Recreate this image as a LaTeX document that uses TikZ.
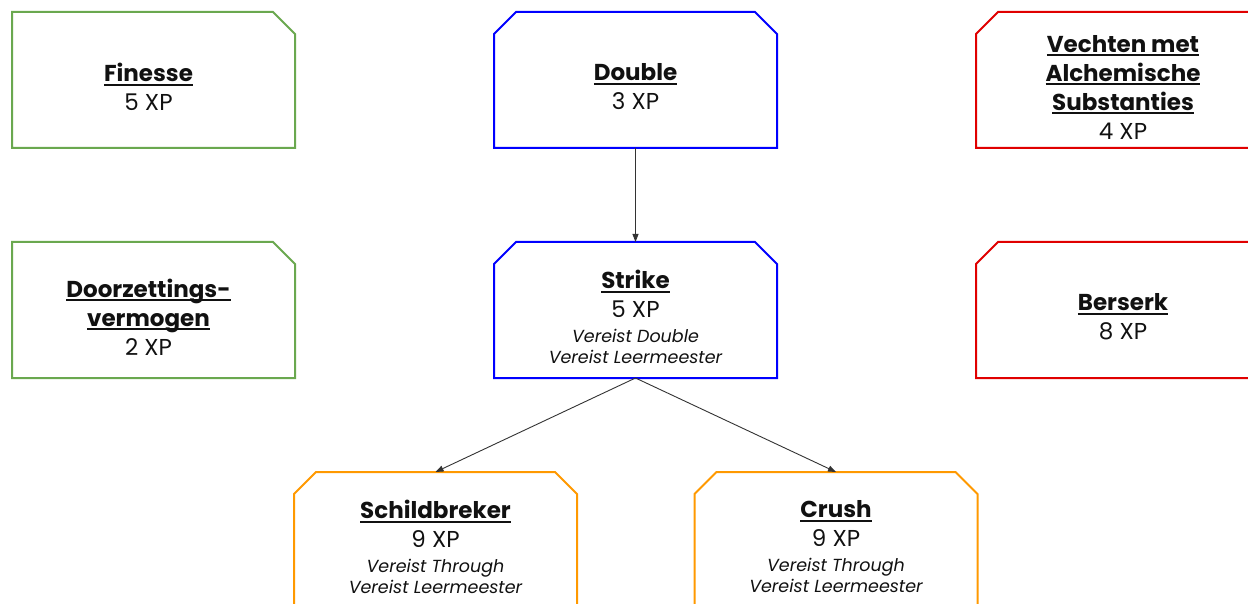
\documentclass[tikz,border=0pt]{standalone}
\usepackage{fontspec}
\setmainfont{Poppins}
\usetikzlibrary{arrows.meta}
\definecolor{cgreen}{HTML}{6AA84F}
\definecolor{cblue}{HTML}{0000FF}
\definecolor{cred}{HTML}{E00000}
\definecolor{corange}{HTML}{FF9900}
\definecolor{ctext}{HTML}{111111}
\newcommand\ulin[1]{\setbox0=\hbox{#1}\rlap{\rule[-4pt]{\wd0}{1.8pt}}\box0}
\newcommand\titl[1]{{\bfseries\ulin{#1}}}
\newcommand\req[1]{{\fontsize{17.5}{21}\selectfont\itshape #1}}
\newcommand\chTR[2]{\draw[outl,#2] (#1.south west) -- (#1.north west) -- ([xshift=-22pt]#1.north east) -- ([yshift=-22pt]#1.north east) -- (#1.south east) -- cycle;}
\newcommand\chTL[2]{\draw[outl,#2] (#1.south west) -- ([yshift=-22pt]#1.north west) -- ([xshift=22pt]#1.north west) -- (#1.north east) -- (#1.south east) -- cycle;}
\newcommand\chTT[2]{\draw[outl,#2] (#1.south west) -- ([yshift=-22pt]#1.north west) -- ([xshift=22pt]#1.north west) -- ([xshift=-22pt]#1.north east) -- ([yshift=-22pt]#1.north east) -- (#1.south east) -- cycle;}
\begin{document}
\begin{tikzpicture}[x=1pt,y=-1pt,
  box/.style={minimum width=283pt,minimum height=136pt,inner sep=0pt,outer sep=0pt},
  txt/.style={align=center,text=ctext,font=\fontsize{23}{29}\selectfont,inner sep=0pt},
  outl/.style={line width=2pt,line join=miter},
  arr/.style={draw=black!80,line width=0.9pt,-{Triangle[length=8pt,width=6pt]}}]
\fill[white] (0,0) rectangle (1248,604);
\useasboundingbox (0,0) rectangle (1248,604);
\node[box] (finesse) at (153.5,80) {};
\node[box] (doorz) at (153.5,310) {};
\node[box] (double) at (635.5,80) {};
\node[box] (strike) at (635.5,310) {};
\node[box] (vechten) at (1117.5,80) {};
\node[box] (berserk) at (1117.5,310) {};
\node[box] (schild) at (435.5,540) {};
\node[box] (crush) at (836,540) {};
\chTR{finesse}{cgreen}
\chTR{doorz}{cgreen}
\chTT{double}{cblue}
\chTT{strike}{cblue}
\chTL{vechten}{cred}
\chTL{berserk}{cred}
\chTT{schild}{corange}
\chTT{crush}{corange}
\node[txt] (finesset) at (148.5,87) {\titl{Finesse}\\5 XP};
\node[txt] (doorzt) at (148.5,317) {\titl{Doorzettings-}\\\titl{vermogen}\\2 XP};
\node[txt] (doublet) at (635.5,87) {\titl{Double}\\3 XP};
\node[txt] (striket) at (635.5,317) {\titl{Strike}\\5 XP\\[-4pt]\req{Vereist Double}\\[-8pt]\req{Vereist Leermeester}};
\node[txt] (vechtent) at (1123,87) {\titl{Vechten met}\\\titl{Alchemische}\\\titl{Substanties}\\4 XP};
\node[txt] (berserkt) at (1123,317) {\titl{Berserk}\\8 XP};
\node[txt] (schildt) at (435.5,547) {\titl{Schildbreker}\\9 XP\\[-4pt]\req{Vereist Through}\\[-8pt]\req{Vereist Leermeester}};
\node[txt] (crusht) at (836,547) {\titl{Crush}\\9 XP\\[-4pt]\req{Vereist Through}\\[-8pt]\req{Vereist Leermeester}};
\draw[arr] (double.south) -- (strike.north);
\draw[arr] (strike.south) -- (schild.north);
\draw[arr] (strike.south) -- (crush.north);
\end{tikzpicture}
\end{document}
